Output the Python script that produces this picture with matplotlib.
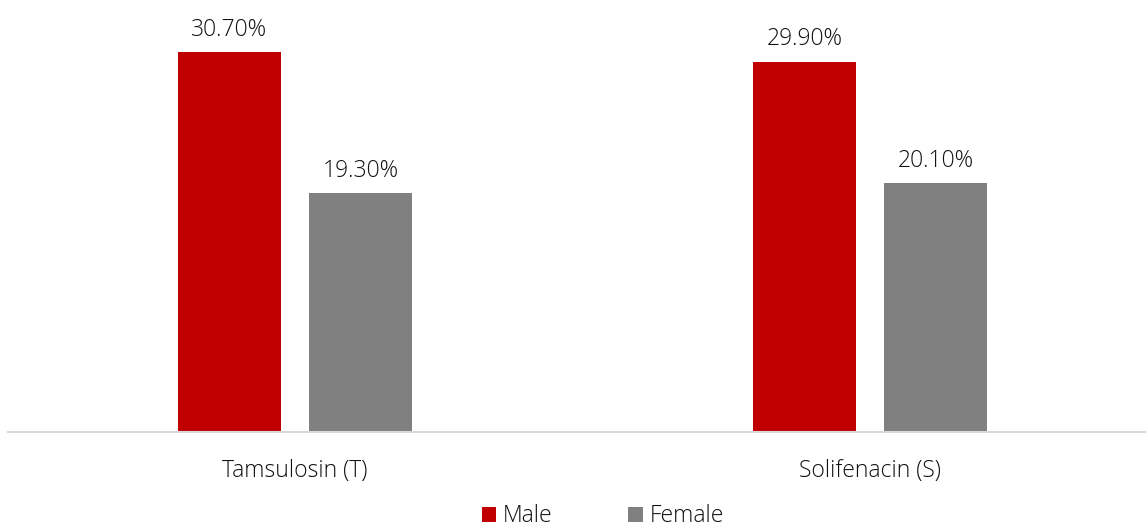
import matplotlib
matplotlib.use("Agg")
import matplotlib.pyplot as plt
import numpy as np

categories = ["Tamsulosin (T)", "Solifenacin (S)"]
male = [30.7, 29.9]
female = [19.3, 20.1]
series_names = ["Male", "Female"]

plt.rcParams['font.family'] = ['Open Sans', 'DejaVu Sans']
plt.rcParams['font.weight'] = 'light'
text_color = '#111111'
fs = 16.5

fig = plt.figure(figsize=(11.46, 5.27), dpi=100)
ax = fig.add_axes([8/1146, (527-432)/527, (1146-8)/1146, 432/527])

x = np.arange(len(categories))
w = 0.179
off = 0.114
b1 = ax.bar(x - off, male, w, color='#C00000', label=series_names[0], zorder=2)
b2 = ax.bar(x + off, female, w, color='#808080', label=series_names[1], zorder=2)

for bars, vals in ((b1, male), (b2, female)):
    for r, v in zip(bars, vals):
        ax.annotate(f"{v:.2f}%", (r.get_x() + r.get_width()/2, v),
                    xytext=(0, 7.5), textcoords='offset points',
                    ha='center', va='bottom', fontsize=fs, color=text_color)

ax.set_xlim(-0.499, 1.48)
ax.set_ylim(0, 34.9)
ax.set_xticks(x)
ax.set_xticklabels(categories, fontsize=fs, color=text_color)
ax.tick_params(axis='x', length=0, pad=19.7)
ax.set_yticks([])
for s in ('top', 'right', 'left'):
    ax.spines[s].set_visible(False)
ax.spines['bottom'].set_color('#D9D9D9')
ax.spines['bottom'].set_linewidth(1.5)
ax.spines['bottom'].set_zorder(3)

leg = fig.legend(handles=[b1, b2], labels=series_names, loc='center',
                 bbox_to_anchor=(603/1146, (527-516.5)/527), ncol=2, frameon=False,
                 fontsize=fs, handlelength=0.62, handleheight=0.62, handletextpad=0.3,
                 columnspacing=3.3, borderpad=0)
for t in leg.get_texts():
    t.set_color(text_color)

fig.savefig("out.png", dpi=100)
